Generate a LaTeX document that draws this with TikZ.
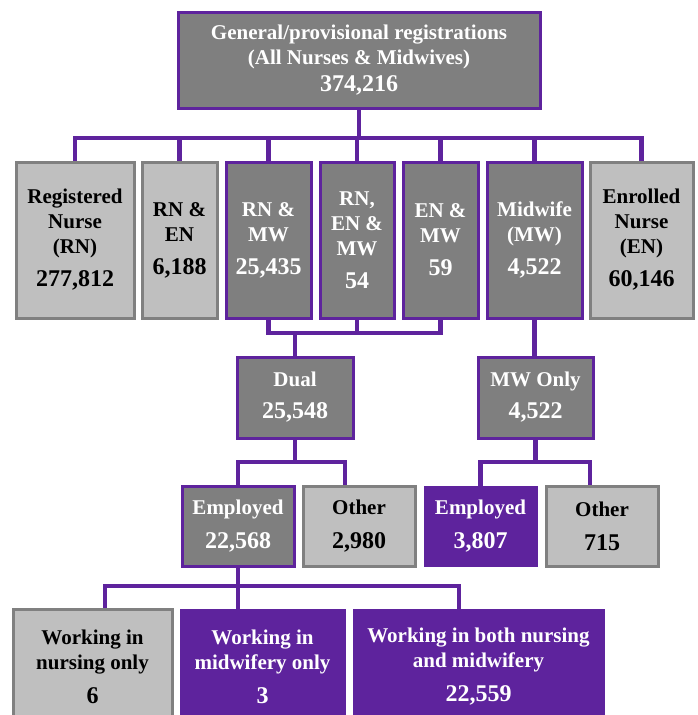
\documentclass[tikz,border=0pt]{standalone}
\usepackage{fontspec}
\setmainfont{LiberationSerif}[Extension=.ttf, UprightFont=*-Regular, BoldFont=*-Bold]
\usetikzlibrary{backgrounds}
\definecolor{pur}{RGB}{94,35,157}
\definecolor{dgray}{RGB}{127,127,127}
\definecolor{lgray}{RGB}{191,191,191}
\definecolor{bgray}{RGB}{128,128,128}
\newcommand{\bignum}[1]{{\fontsize{24}{25}\selectfont #1}}
\begin{document}
\begin{tikzpicture}[x=1pt,y=-1pt,
 box/.style={rectangle, inner sep=0pt, align=center, font=\bfseries\fontsize{21}{25}\selectfont, line width=3pt},
 dbox/.style={box, fill=dgray, draw=pur, text=white},
 lbox/.style={box, fill=lgray, draw=bgray, text=black},
 pbox/.style={box, fill=pur, draw=pur, text=white, line width=1pt},
 link/.style={draw=pur, line width=4.5pt}]
\useasboundingbox (0,0) rectangle (697,715);
\clip (0,0) rectangle (697,715);
% top
\node[dbox, minimum width=362pt, minimum height=96pt] (top) at (359,60)
 {General/provisional registrations\\(All Nurses \& Midwives)\\[2pt]\bignum{374,216}};
% row 2
\node[lbox, minimum width=118pt, minimum height=156pt] (rn) at (75,240)
 {Registered\\Nurse\\(RN)\\[8pt]\bignum{277,812}};
\node[lbox, minimum width=75pt, minimum height=156pt] (rnen) at (179.5,240)
 {RN \&\\EN\\[8pt]\bignum{6,188}};
\node[dbox, minimum width=85pt, minimum height=156pt] (rnmw) at (268.5,240)
 {RN \&\\MW\\[8pt]\bignum{25,435}};
\node[dbox, minimum width=74pt, minimum height=156pt] (rnenmw) at (357,240)
 {RN,\\EN \&\\MW\\[8pt]\bignum{54}};
\node[dbox, minimum width=75pt, minimum height=156pt] (enmw) at (440.5,240)
 {EN \&\\MW\\[8pt]\bignum{59}};
\node[dbox, minimum width=95pt, minimum height=156pt] (mw) at (534.5,240)
 {Midwife\\(MW)\\[8pt]\bignum{4,522}};
\node[lbox, minimum width=103pt, minimum height=156pt] (en) at (641.5,240)
 {Enrolled\\Nurse\\(EN)\\[8pt]\bignum{60,146}};
% row 3
\node[dbox, minimum width=116pt, minimum height=81pt] (dual) at (295,397.5)
 {Dual\\[7pt]\bignum{25,548}};
\node[dbox, minimum width=115pt, minimum height=81pt] (mwonly) at (535.5,397.5)
 {MW Only\\[7pt]\bignum{4,522}};
% row 4
\node[dbox, minimum width=112pt, minimum height=80pt] (emp1) at (238,526)
 {Employed\\[9pt]\bignum{22,568}};
\node[lbox, minimum width=112pt, minimum height=80pt] (oth1) at (359,526)
 {Other\\[9pt]\bignum{2,980}};
\node[pbox, minimum width=113pt, minimum height=80pt] (emp2) at (480.5,526)
 {Employed\\[9pt]\bignum{3,807}};
\node[lbox, minimum width=112pt, minimum height=80pt] (oth2) at (602,526)
 {Other\\[9pt]\bignum{715}};
% row 5
\node[lbox, minimum width=159pt, minimum height=116pt] (nurs) at (92.5,667)
 {Working in\\nursing only\\[9pt]\bignum{6}};
\node[pbox, minimum width=165pt, minimum height=116pt] (midw) at (262.5,667)
 {Working in\\midwifery only\\[9pt]\bignum{3}};
\node[pbox, minimum width=251pt, minimum height=116pt] (both) at (478.5,667)
 {Working in both nursing\\and midwifery\\[9pt]\bignum{22,559}};
% connectors
\begin{scope}[on background layer]
\coordinate (b1) at (0,138);
\coordinate (b2) at (0,333);
\coordinate (b3) at (0,462);
\coordinate (b5) at (0,586);
\draw[link] (rn.north) -- (rn.north |- b1) -- (en.north |- b1) -- (en.north);
\foreach \n in {rnen,rnmw,rnenmw,enmw,mw} \draw[link] (\n.north) -- (\n.north |- b1);
\draw[link] (top.south) -- (top.south |- b1);
\draw[link] (rnmw.south) -- (rnmw.south |- b2) -- (enmw.south |- b2) -- (enmw.south);
\draw[link] (rnenmw.south) -- (rnenmw.south |- b2);
\draw[link] (dual.north) -- (dual.north |- b2);
\draw[link] (mw.south) -- (mw.south |- mwonly.north);
\draw[link] (emp1.north) -- (emp1.north |- b3) -- ([xshift=-14pt]oth1.north |- b3) -- ([xshift=-14pt]oth1.north);
\draw[link] (dual.south) -- (dual.south |- b3);
\draw[link] (emp2.north) -- (emp2.north |- b3) -- ([xshift=-12pt]oth2.north |- b3) -- ([xshift=-12pt]oth2.north);
\draw[link] (mwonly.south) -- (mwonly.south |- b3);
\draw[link] ([xshift=12.5pt]nurs.north) -- ([xshift=12.5pt]nurs.north |- b5) -- ([xshift=-19.5pt]both.north |- b5) -- ([xshift=-19.5pt]both.north);
\draw[link] (emp1.south) -- (emp1.south |- midw.north);
\end{scope}
\end{tikzpicture}
\end{document}
